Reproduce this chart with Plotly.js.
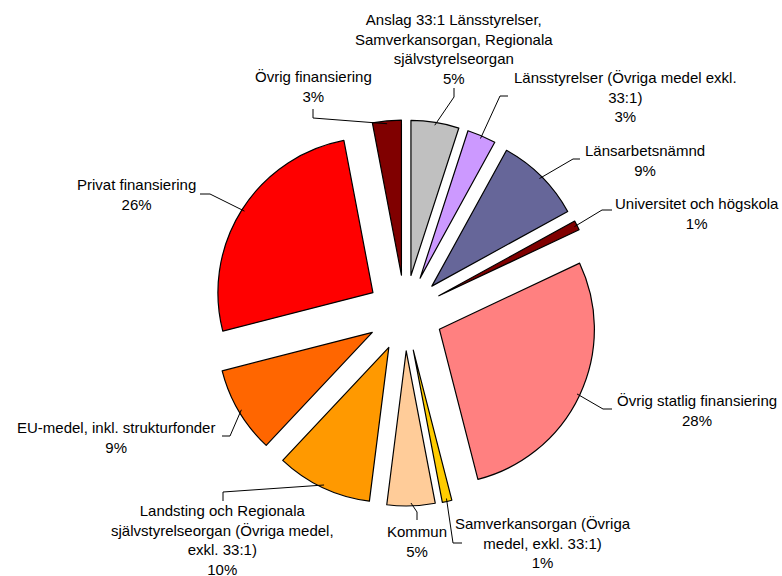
<!DOCTYPE html>
<html><head><meta charset="utf-8">
<script src="https://cdn.plot.ly/plotly-3.0.1.min.js"></script>
<style>html,body{margin:0;padding:0;background:#fff}</style>
</head><body><div id="chart" style="width:782px;height:576px"></div>
<script>
const categories = [
  "Anslag 33:1 Länsstyrelser, Samverkansorgan, Regionala självstyrelseorgan",
  "Länsstyrelser (Övriga medel exkl. 33:1)",
  "Länsarbetsnämnd",
  "Universitet och högskola",
  "Övrig statlig finansiering",
  "Samverkansorgan (Övriga medel, exkl. 33:1)",
  "Kommun",
  "Landsting och Regionala självstyrelseorgan (Övriga medel, exkl. 33:1)",
  "EU-medel, inkl. strukturfonder",
  "Privat finansiering",
  "Övrig finansiering"
];
const values = [5, 3, 9, 1, 28, 1, 5, 10, 9, 26, 3];
const colors = ["#C0C0C0","#CC99FF","#666699","#800000","#FF8080","#FFCC00","#FFCC99","#FF9900","#FF6600","#FF0000","#800000"];
const labelLines = [
  "Anslag 33:1 Länsstyrelser,<br>Samverkansorgan, Regionala<br>självstyrelseorgan",
  "Länsstyrelser (Övriga medel exkl.<br>33:1)",
  "Länsarbetsnämnd",
  "Universitet och högskola",
  "Övrig statlig finansiering",
  "Samverkansorgan (Övriga<br>medel, exkl. 33:1)",
  "Kommun",
  "Landsting och Regionala<br>självstyrelseorgan (Övriga medel,<br>exkl. 33:1)",
  "EU-medel, inkl. strukturfonder",
  "Privat finansiering",
  "Övrig finansiering"
];
// label layout (pixel positions of label centres and leader-line start/elbow)
const labelCenters = [[454,49],[625,97],[645,160],[697,213],[697,410],[543,543],[417,541],[222,540],[116,437],[136,194],[313,87]];
const leaderStarts = [[454,88],[508,96],[580,159],[612,210],[612,409],[462,543],[417,520],[223,501],[222,436],[200,194],[313,109]];
const leaderElbows = [[454,97],[500,96],[573,159],[602,210],[603,409],[453,543],[417,512],[223,492],[230,436],[210,194],[313,118]];

const W = 782, H = 576;
const M = {l:211, r:183, t:120, b:70};
const pull = 0.245;
const pw = W - M.l - M.r, ph = H - M.t - M.b;
const px2x = p => (p - M.l) / pw;
const py2y = p => 1 - (p - M.t) / ph;
const cx = M.l + pw/2, cy = M.t + ph/2;
const R = Math.min(pw, ph) / 2 * 0.985;
const total = values.reduce((a,b)=>a+b,0);

const annotations = [], shapes = [];
let cum = 0;
values.forEach((v,i) => {
  const th = (cum + v/2) / total * 2 * Math.PI;
  cum += v;
  const tip = [cx + R*Math.sin(th), cy - R*Math.cos(th)];
  const pct = Math.round(v/total*100) + "%";
  annotations.push({
    x: px2x(labelCenters[i][0]), y: py2y(labelCenters[i][1]),
    xref: "paper", yref: "paper", xanchor: "center", yanchor: "middle",
    showarrow: false, align: "center",
    text: labelLines[i] + "<br>" + pct,
    font: {family: "Liberation Sans, Arial, sans-serif", size: 15, color: "#000"}
  });
  const s = leaderStarts[i], e = leaderElbows[i];
  shapes.push({
    type: "path", xref: "paper", yref: "paper",
    path: `M ${px2x(s[0])} ${py2y(s[1])} L ${px2x(e[0])} ${py2y(e[1])} L ${px2x(tip[0])} ${py2y(tip[1])}`,
    line: {color: "#000", width: 1}
  });
});

const trace = {
  type: "pie",
  labels: categories,
  values: values,
  sort: false,
  direction: "clockwise",
  rotation: 0,
  pull: values.map(() => pull),
  marker: {colors: colors, line: {color: "#000", width: 1.2}},
  textinfo: "none",
  hoverinfo: "label+percent",
  showlegend: false
};

Plotly.newPlot("chart", [trace], {
  width: W, height: H, margin: M,
  paper_bgcolor: "#fff", plot_bgcolor: "#fff",
  showlegend: false,
  annotations: annotations, shapes: shapes
}, {displayModeBar: false, staticPlot: true});
</script>
</body></html>
